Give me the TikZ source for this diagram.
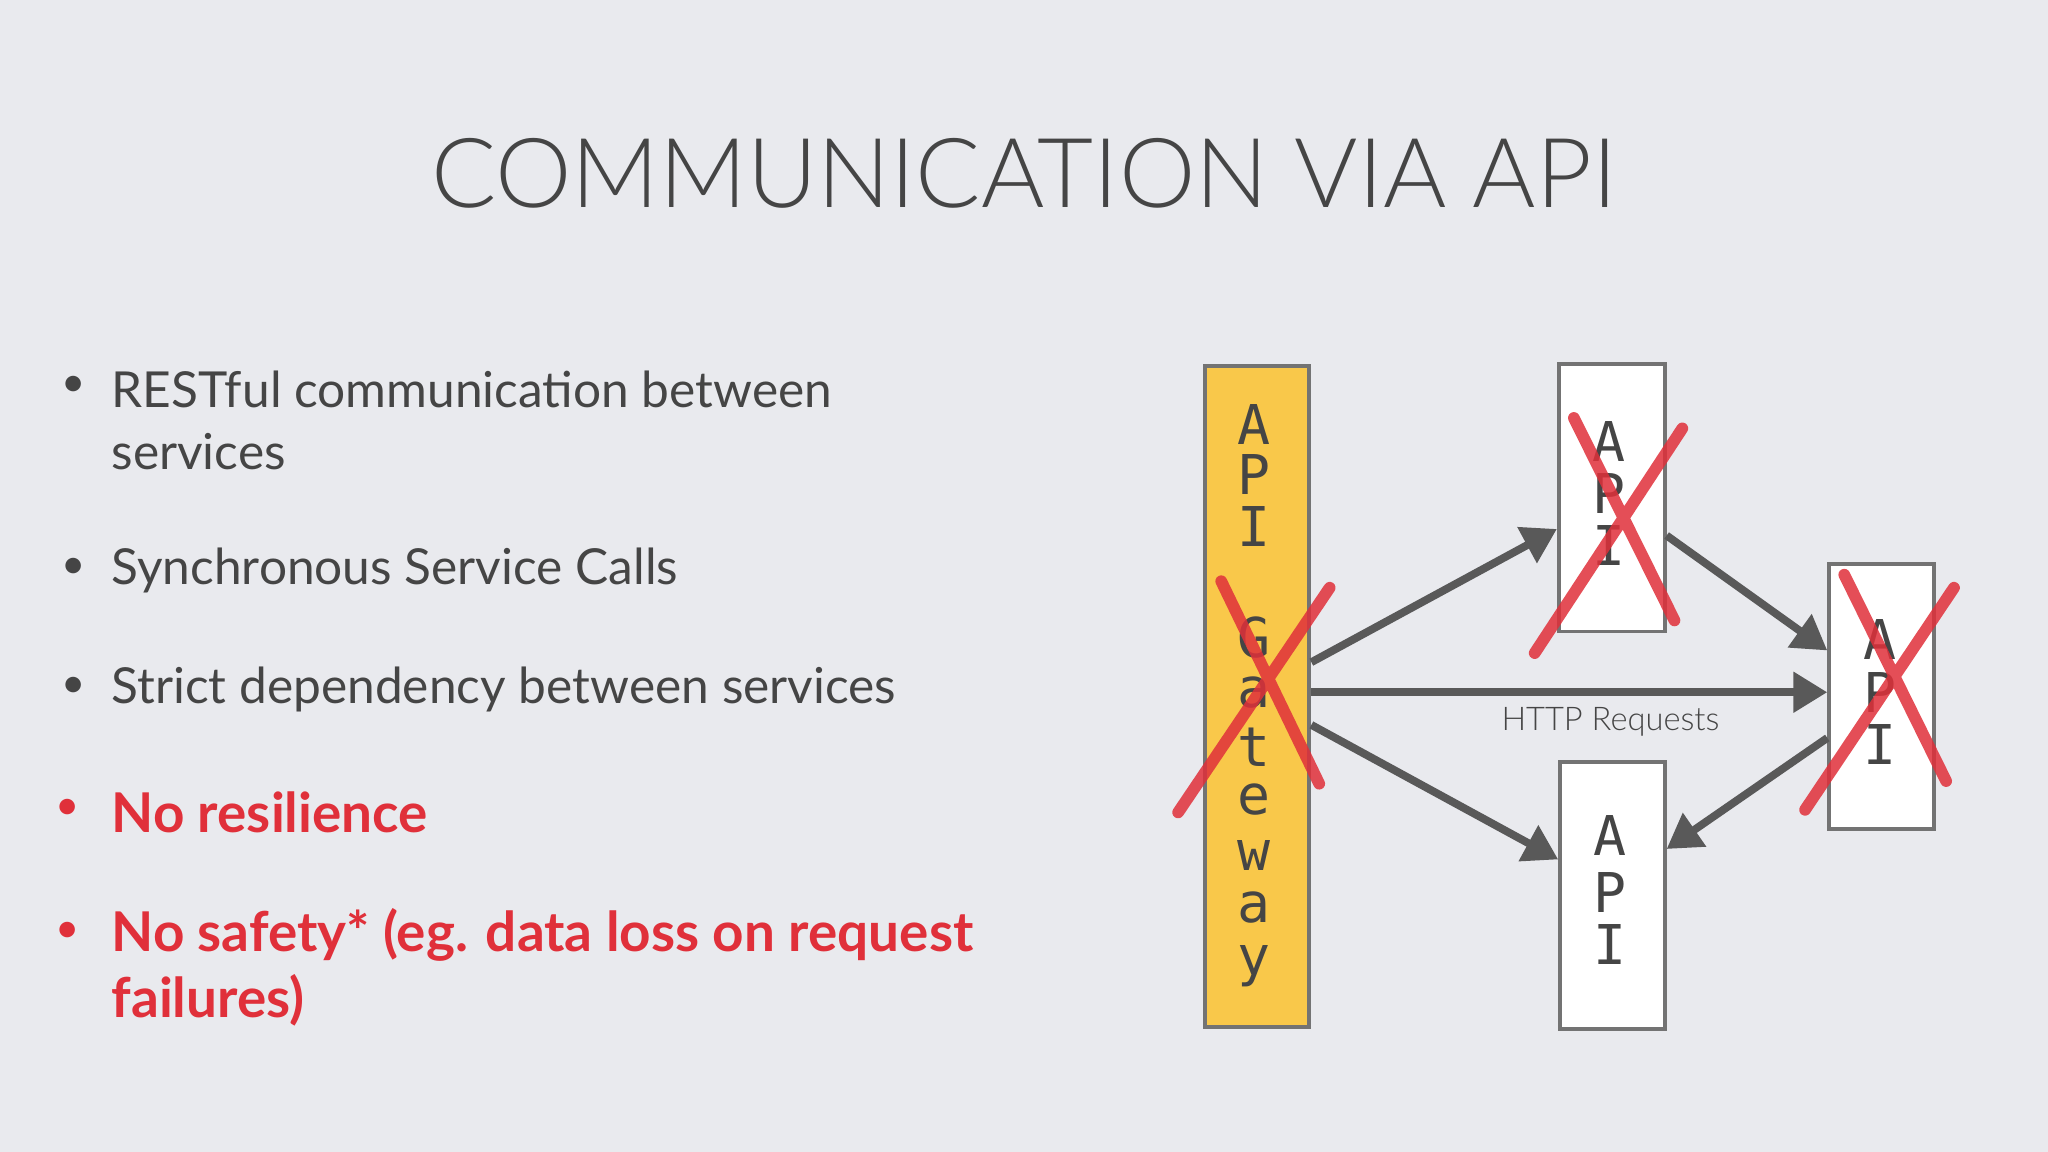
\documentclass[tikz,border=0pt]{standalone}
\usepackage{fontspec}
\setmainfont{Lato}
\newfontfamily\monof{DejaVu Sans Mono}
\newfontfamily\lightf{Lato Light}
\usetikzlibrary{arrows.meta}
\definecolor{bg}{HTML}{E9EAEE}
\definecolor{tx}{HTML}{454545}
\definecolor{rd}{HTML}{E0303A}
\definecolor{gw}{HTML}{F9C84A}
\tikzset{
 bul/.style={anchor=west,text=tx,font=\fontsize{19}{23}\selectfont,inner sep=0},
 rbul/.style={bul,text=rd,font=\bfseries\fontsize{21}{25}\selectfont},
 box/.style={draw=black!55,line width=1.5pt,anchor=north west,inner sep=0},
 let/.style={font=\monof\fontsize{21}{21}\selectfont,text=tx},
 arr/.style={draw=black!65,line width=3pt,-{Triangle[length=13pt,width=15pt]}},
 cross/.style={draw=rd,opacity=0.85,line width=4.5pt,line cap=round}
}
\begin{document}
\begin{tikzpicture}[x=0.5pt,y=-0.5pt]
\useasboundingbox[fill=bg] (0,0) rectangle (1568,882);
\node[text=tx,font=\lightf\fontsize{37}{37}\selectfont] (title) at (784,133) {COMMUNICATION VIA API};
\foreach \y/\n in {298/a,437/b,528/c}{\node[text=tx,font=\fontsize{16}{16}\selectfont] (d\n) at (56,\y-2) {•};}
\foreach \y/\n in {622/d,716/e}{\node[text=rd,font=\fontsize{16}{16}\selectfont] (d\n) at (52,\y-2) {•};}
\node[bul] (t1) at (85,298) {RESTful communication between};
\node[bul] (t1b) at (85,346) {services};
\node[bul] (t2) at (85,437) {Synchronous Service Calls};
\node[bul] (t3) at (85,528) {Strict dependency between services};
\node[rbul] (t4) at (85,622) {No resilience};
\node[rbul] (t5) at (85,716) {No safety* (eg. data loss on request};
\node[rbul] (t5b) at (85,766) {failures)};
% boxes
\node[box,fill=gw,minimum width=40pt,minimum height=253pt] (gw) at (921,279) {};
\node[box,fill=white,minimum width=40.5pt,minimum height=102.5pt] (b1) at (1192,277) {};
\node[box,fill=white,minimum width=40pt,minimum height=101.5pt] (b2) at (1399,430) {};
\node[box,fill=white,minimum width=40pt,minimum height=102pt] (b3) at (1193,582) {};
\foreach \c/\y [count=\i] in {A/325,P/363,I/403,G/488,a/530,t/572,e/612,w/655,a/695,y/740}{\node[let] (g\i) at (960,\y) {\c};}
\foreach \c/\y [count=\i] in {A/338,P/378,I/418}{\node[let] (p\i) at (1232,\y) {\c};}
\foreach \c/\y [count=\i] in {A/490,P/530,I/570}{\node[let] (q\i) at (1439,\y) {\c};}
\foreach \c/\y [count=\i] in {A/640,P/683,I/723}{\node[let] (r\i) at (1233,\y) {\c};}
% arrows
\draw[arr] (gw.east|-0,507) -- (b1.west|-0,405);
\draw[arr] (gw.east|-0,530) -- (b2.west|-0,530);
\draw[arr] (gw.east|-0,555) -- (b3.west|-0,658);
\draw[arr] (b1.east|-0,410) -- (b2.west|-0,498);
\draw[arr] (b2.west|-0,565) -- (b3.east|-0,650);
\node[text=tx,font=\lightf\fontsize{12.5}{12.5}\selectfont] (http) at (1233,553) {HTTP Requests};
% crosses
\draw[cross] (935,445) -- (1010,600) (1018,450) -- (902,622);
\draw[cross] (1205,320) -- (1282,475) (1288,328) -- (1175,500);
\draw[cross] (1412,440) -- (1490,598) (1496,450) -- (1382,620);
\end{tikzpicture}
\end{document}
